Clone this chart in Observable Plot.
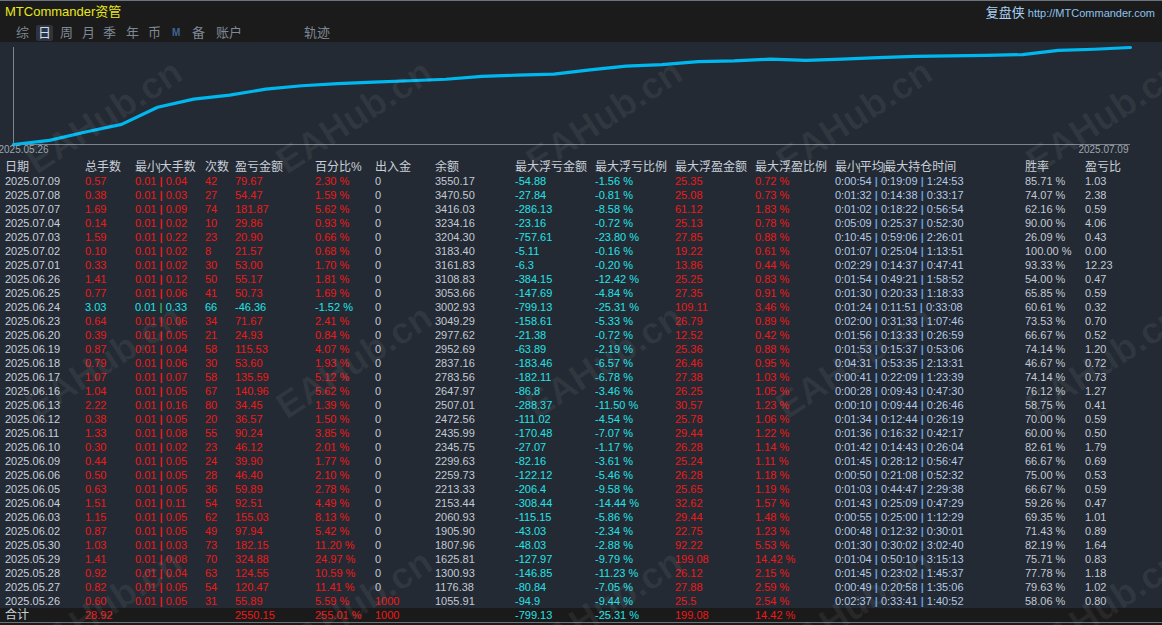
<!DOCTYPE html>
<html><head><meta charset="utf-8">
<script src="https://cdn.jsdelivr.net/npm/d3@7"></script>
<script src="https://cdn.jsdelivr.net/npm/@observablehq/plot@0.6"></script>
<style>
html,body{margin:0;padding:0;background:#242a33;width:1162px;height:625px;overflow:hidden;
  font-family:"Liberation Sans",Arial,"Noto Sans CJK SC",sans-serif;}
#root{position:relative;width:1162px;height:625px;background:#242a33;}
#topbar{position:absolute;left:0;top:0;width:1162px;height:42px;background:#1b1b1b;border-top:1px solid #6b737e;box-sizing:border-box;}
#title{position:absolute;left:5px;top:3px;height:18px;line-height:18px;font-size:13px;color:#e8e81a;white-space:nowrap;}
#brand{position:absolute;right:7px;top:3px;height:18px;line-height:18px;white-space:nowrap;}
#brand .cn{font-size:13px;color:#a9cff2;}
#brand .url{font-size:11px;color:#8ec2f0;margin-left:3px;}
.tab{position:absolute;top:25px;height:16px;line-height:16px;font-size:13px;color:#7f8895;white-space:nowrap;}
.tab.on{background:#2c3441;color:#d3dbe8;border-radius:2px;padding:0 2px;margin-left:-2px;}
.tab.icon{font-size:10px;font-weight:bold;color:#3f6596;}
#chart{position:absolute;left:0;top:42px;width:1162px;height:115px;overflow:hidden;}
#table{position:absolute;left:0;top:160px;width:1162px;height:462px;}
.row{position:absolute;left:0;width:1162px;height:14px;line-height:14px;}
.c{position:absolute;top:0;white-space:nowrap;font-size:11px;}
.h{font-size:12px;color:#c8cfda;}
#totbg{position:absolute;left:0;top:608px;width:1162px;height:14px;background:#1a1a1a;}
#botline{position:absolute;left:0;top:622px;width:1162px;height:1px;background:#6b737e;}
#bot{position:absolute;left:0;top:623px;width:1162px;height:2px;background:#1b1b1b;}
#wm{position:absolute;left:0;top:0;width:1162px;height:625px;pointer-events:none;overflow:hidden;}
.wmt{position:absolute;font-size:37px;font-weight:bold;color:rgba(255,255,255,0.06);transform:rotate(-33deg);transform-origin:0 100%;white-space:nowrap;line-height:36px;}
</style></head>
<body><div id="root">
<div id="topbar"></div>
<div id="title">MTCommander资管</div>
<div id="brand"><span class="cn">复盘侠</span><span class="url">http://MTCommander.com</span></div>
<div id="tabs"></div>
<div id="chart"></div>
<div id="totbg"></div>
<div id="table"></div>
<div id="botline"></div><div id="bot"></div>
<div id="wm"></div>
</div>
<script>
// ---------------- data (newest first, as in the table) ----------------
const dates = ["2025.07.09","2025.07.08","2025.07.07","2025.07.04","2025.07.03","2025.07.02","2025.07.01","2025.06.26","2025.06.25","2025.06.24","2025.06.23","2025.06.20","2025.06.19","2025.06.18","2025.06.17","2025.06.16","2025.06.13","2025.06.12","2025.06.11","2025.06.10","2025.06.09","2025.06.06","2025.06.05","2025.06.04","2025.06.03","2025.06.02","2025.05.30","2025.05.29","2025.05.28","2025.05.27","2025.05.26"];
const lots = ["0.57","0.38","1.69","0.14","1.59","0.10","0.33","1.41","0.77","3.03","0.64","0.39","0.87","0.79","1.07","1.04","2.22","0.38","1.33","0.30","0.44","0.50","0.63","1.51","1.15","0.87","1.03","1.41","0.92","0.82","0.60"];
const minLot = ["0.01","0.01","0.01","0.01","0.01","0.01","0.01","0.01","0.01","0.01","0.01","0.01","0.01","0.01","0.01","0.01","0.01","0.01","0.01","0.01","0.01","0.01","0.01","0.01","0.01","0.01","0.01","0.01","0.01","0.01","0.01"];
const maxLot = ["0.04","0.03","0.09","0.02","0.22","0.02","0.02","0.12","0.06","0.33","0.06","0.05","0.04","0.06","0.07","0.05","0.16","0.05","0.08","0.02","0.05","0.05","0.05","0.11","0.05","0.05","0.03","0.08","0.04","0.05","0.05"];
const trades = [42,27,74,10,23,8,30,50,41,66,34,21,58,30,58,67,80,20,55,23,24,28,36,54,62,49,73,70,63,54,31];
const profit = ["79.67","54.47","181.87","29.86","20.90","21.57","53.00","55.17","50.73","-46.36","71.67","24.93","115.53","53.60","135.59","140.96","34.45","36.57","90.24","46.12","39.90","46.40","59.89","92.51","155.03","97.94","182.15","324.88","124.55","120.47","55.89"];
const pct = ["2.30","1.59","5.62","0.93","0.66","0.68","1.70","1.81","1.69","-1.52","2.41","0.84","4.07","1.93","5.12","5.62","1.39","1.50","3.85","2.01","1.77","2.10","2.78","4.49","8.13","5.42","11.20","24.97","10.59","11.41","5.59"];
const deposit = [0,0,0,0,0,0,0,0,0,0,0,0,0,0,0,0,0,0,0,0,0,0,0,0,0,0,0,0,0,0,1000];
const balance = [3550.17,3470.50,3416.03,3234.16,3204.30,3183.40,3161.83,3108.83,3053.66,3002.93,3049.29,2977.62,2952.69,2837.16,2783.56,2647.97,2507.01,2472.56,2435.99,2345.75,2299.63,2259.73,2213.33,2153.44,2060.93,1905.90,1807.96,1625.81,1300.93,1176.38,1055.91];
const maxFloatLoss = ["-54.88","-27.84","-286.13","-23.16","-757.61","-5.11","-6.3","-384.15","-147.69","-799.13","-158.61","-21.38","-63.89","-183.46","-182.11","-86.8","-288.37","-111.02","-170.48","-27.07","-82.16","-122.12","-206.4","-308.44","-115.15","-43.03","-48.03","-127.97","-146.85","-80.84","-94.9"];
const maxFloatLossPct = ["-1.56","-0.81","-8.58","-0.72","-23.80","-0.16","-0.20","-12.42","-4.84","-25.31","-5.33","-0.72","-2.19","-6.57","-6.78","-3.46","-11.50","-4.54","-7.07","-1.17","-3.61","-5.46","-9.58","-14.44","-5.86","-2.34","-2.88","-9.79","-11.23","-7.05","-9.44"];
const maxFloatProfit = ["25.35","25.08","61.12","25.13","27.85","19.22","13.86","25.25","27.35","109.11","26.79","12.52","25.36","26.46","27.38","26.25","30.57","25.78","29.44","26.28","25.24","26.28","25.65","32.62","29.44","22.75","92.22","199.08","26.12","27.88","25.5"];
const maxFloatProfitPct = ["0.72","0.73","1.83","0.78","0.88","0.61","0.44","0.83","0.91","3.46","0.89","0.42","0.88","0.95","1.03","1.05","1.23","1.06","1.22","1.14","1.11","1.18","1.19","1.57","1.48","1.23","5.53","14.42","2.15","2.59","2.54"];
const holdMin = ["0:00:54","0:01:32","0:01:02","0:05:09","0:10:45","0:01:07","0:02:29","0:01:54","0:01:30","0:01:24","0:02:00","0:01:56","0:01:53","0:04:31","0:00:41","0:00:28","0:00:10","0:01:34","0:01:36","0:01:42","0:01:45","0:00:50","0:01:03","0:01:43","0:00:55","0:00:48","0:01:30","0:01:04","0:01:45","0:00:49","0:02:37"];
const holdAvg = ["0:19:09","0:14:38","0:18:22","0:25:37","0:59:06","0:25:04","0:14:37","0:49:21","0:20:33","0:11:51","0:31:33","0:13:33","0:15:37","0:53:35","0:22:09","0:09:43","0:09:44","0:12:44","0:16:32","0:14:43","0:28:12","0:21:08","0:44:47","0:25:09","0:25:00","0:12:32","0:30:02","0:50:10","0:23:02","0:20:58","0:33:41"];
const holdMax = ["1:24:53","0:33:17","0:56:54","0:52:30","2:26:01","1:13:51","0:47:41","1:58:52","1:18:33","0:33:08","1:07:46","0:26:59","0:53:06","2:13:31","1:23:39","0:47:30","0:26:46","0:26:19","0:42:17","0:26:04","0:56:47","0:52:32","2:29:38","0:47:29","1:12:29","0:30:01","3:02:40","3:15:13","1:45:37","1:35:06","1:40:52"];
const winRate = ["85.71","74.07","62.16","90.00","26.09","100.00","93.33","54.00","65.85","60.61","73.53","66.67","74.14","46.67","74.14","76.12","58.75","70.00","60.00","82.61","66.67","75.00","66.67","59.26","69.35","71.43","82.19","75.71","77.78","79.63","58.06"];
const plRatio = ["1.03","2.38","0.59","4.06","0.43","0.00","12.23","0.47","0.59","0.32","0.70","0.52","1.20","0.72","0.73","1.27","0.41","0.59","0.50","1.79","0.69","0.53","0.59","0.47","1.01","0.89","1.64","0.83","1.18","1.02","0.80"];
const totals = {lots:"28.92", profit:"2550.15", pct:"255.01", deposit:"1000", maxFloatLoss:"-799.13", maxFloatLossPct:"-25.31", maxFloatProfit:"199.08", maxFloatProfitPct:"14.42"};
const headers = ["日期","总手数","最小|大手数","次数","盈亏金额","百分比%","出入金","余额","最大浮亏金额","最大浮亏比例","最大浮盈金额","最大浮盈比例","最小|平均|最大持仓时间","胜率","盈亏比"];
const tabLabels = ["综","日","周","月","季","年","币","M","备","账户","轨迹"];
const titleTotal = "合计";

// ---------------- styles / layout ----------------
const RED="#f01818", CYAN="#22e2e8", GRAY="#c2c9d4", DATE="#c8d0dc", TIME="#b2c9e6", TSEP="#5e9fe2", GSEP="#2fa860";
const colLeft=[5,85,135,205,235,315,375,435,515,595,675,755,835,1025,1085];
const tabLeft=[16,38,60,82,103,126,148,172,192,216,304];

const tabs=document.getElementById("tabs");
tabLabels.forEach((t,i)=>{
  const d=document.createElement("div");
  d.className="tab"+(i===1?" on":"")+(t==="M"?" icon":"");
  d.style.left=tabLeft[i]+"px"; d.textContent=t; tabs.appendChild(d);
});

// ---------------- equity curve (Plot) ----------------
const startBal = d3.sum(deposit);
const equity=[startBal, ...balance.slice().reverse()];
const pts=equity.map((v,i)=>({i,v}));
const firstDate=dates[dates.length-1], lastDate=dates[0];
const chart=Plot.plot({
  width:1162, height:115, marginLeft:13, marginRight:32, marginTop:5, marginBottom:13,
  style:{background:"transparent"},
  x:{axis:null, domain:[0, equity.length-1]},
  y:{axis:null, type:"log", domain:[d3.min(equity), d3.max(equity)]},
  marks:[
    Plot.ruleX([0],{stroke:"#7d848e",strokeWidth:1}),
    Plot.ruleY([d3.min(equity)],{stroke:"#7d848e",strokeWidth:1}),
    Plot.line(pts,{x:"i",y:"v",stroke:"#00b8f0",strokeWidth:3.2}),
    Plot.text([firstDate],{x:()=>0,frameAnchor:"bottom",dy:8,dx:-15,text:d=>d,textAnchor:"start",fill:"#9ea6b0",fontSize:10,fontFamily:"Liberation Sans, Arial"}),
    Plot.text([lastDate],{x:()=>equity.length-1,frameAnchor:"bottom",dy:8,dx:-2,text:d=>d,textAnchor:"end",fill:"#9ea6b0",fontSize:10,fontFamily:"Liberation Sans, Arial"})
  ]
});
document.getElementById("chart").appendChild(chart);

// ---------------- table ----------------
const table=document.getElementById("table");
function addRow(k, cells){
  const r=document.createElement("div"); r.className="row"; r.style.top=(14*k)+"px";
  cells.forEach((c,j)=>{
    if(c==null) return;
    const s=document.createElement("span"); s.className="c"+(c.h?" h":"");
    s.style.left=colLeft[j]+"px"; if(c.color) s.style.color=c.color;
    s.innerHTML=c.html; r.appendChild(s);
  });
  table.appendChild(r);
}
const sep=(col)=>`<span style="color:${col};font-weight:bold"> | </span>`;
addRow(0, headers.map(h=>({h:true, html:h.split("|").join('<span style="font-size:10px;font-weight:normal;margin:0 -1px">|</span>')})));
dates.forEach((d,i)=>{
  const neg=parseFloat(profit[i])<0;
  const col=neg?CYAN:RED, sc=neg?GSEP:RED;
  addRow(i+1,[
    {html:d,color:DATE},
    {html:lots[i],color:col},
    {html:minLot[i]+sep(sc)+maxLot[i],color:col},
    {html:String(trades[i]),color:col},
    {html:profit[i],color:col},
    {html:pct[i]+" %",color:col},
    {html:String(deposit[i]),color:deposit[i]>0?RED:GRAY},
    {html:balance[i].toFixed(2),color:GRAY},
    {html:maxFloatLoss[i],color:CYAN},
    {html:maxFloatLossPct[i]+" %",color:CYAN},
    {html:maxFloatProfit[i],color:RED},
    {html:maxFloatProfitPct[i]+" %",color:RED},
    {html:holdMin[i]+sep(TSEP)+holdAvg[i]+sep(TSEP)+holdMax[i],color:TIME},
    {html:winRate[i]+" %",color:GRAY},
    {html:plRatio[i],color:GRAY}
  ]);
});
addRow(dates.length+1,[
  {html:titleTotal,color:DATE,h:true},
  {html:totals.lots,color:RED}, null, null,
  {html:totals.profit,color:RED},
  {html:totals.pct+" %",color:RED},
  {html:totals.deposit,color:RED}, null,
  {html:totals.maxFloatLoss,color:CYAN},
  {html:totals.maxFloatLossPct+" %",color:CYAN},
  {html:totals.maxFloatProfit,color:RED},
  {html:totals.maxFloatProfitPct+" %",color:RED}
]);

// ---------------- watermark ----------------
const wm=document.getElementById("wm");
for(let j=0;j<3;j++) for(let k=0;k<5;k++){
  const s=document.createElement("span"); s.className="wmt"; s.textContent="EAHub.cn";
  s.style.left=(40+250*k)+"px"; s.style.top=(180+245*j-36)+"px"; wm.appendChild(s);
}
</script>
</body></html>
